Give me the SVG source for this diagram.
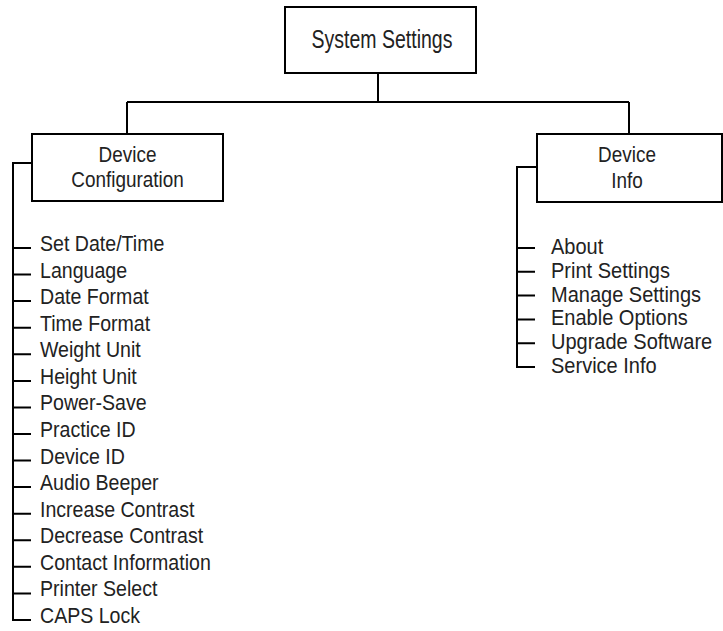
<svg xmlns="http://www.w3.org/2000/svg" width="723" height="631" viewBox="0 0 723 631">
<style>
  .box { fill: #fff; stroke: #000; stroke-width: 2; }
  .ln { fill: none; stroke: #000; stroke-width: 2; }
  text { font-family: "Liberation Sans", Arial, sans-serif; fill: #222; }
  .t { font-size: 22px; }
  .top { font-size: 25px; }
  .c { text-anchor: middle; }
</style>
<rect width="723" height="631" fill="#fff"/>
<g id="connectors">
  <path class="ln" d="M378 73 V102 M127 102 H629 M127 102 V134 M629 102 V134"/>
  <path class="ln" d="M32 163 H13 V620 H31"/>
  <path class="ln" d="M13 248 H31 M13 274.6 H31 M13 301.1 H31 M13 327.7 H31 M13 354.3 H31 M13 380.9 H31 M13 407.4 H31 M13 434 H31 M13 460.6 H31 M13 487.1 H31 M13 513.7 H31 M13 540.3 H31 M13 566.8 H31 M13 593.4 H31"/>
  <path class="ln" d="M537 167 H517 V367 H535"/>
  <path class="ln" d="M517 248 H535 M517 271.8 H535 M517 295.6 H535 M517 319.4 H535 M517 343.2 H535"/>
</g>
<g id="system-settings">
  <rect class="box" x="285" y="7" width="191" height="66"/>
  <text class="top c" transform="translate(382 48) scale(0.78 1)">System Settings</text>
</g>
<g id="device-configuration">
  <rect class="box" x="32" y="134" width="191" height="67"/>
  <text class="t c" transform="translate(127.5 162) scale(0.86 1)">Device</text>
  <text class="t c" transform="translate(127.5 187) scale(0.86 1)">Configuration</text>
</g>
<g id="device-info">
  <rect class="box" x="537" y="134" width="185" height="68"/>
  <text class="t c" transform="translate(627 162) scale(0.86 1)">Device</text>
  <text class="t c" transform="translate(627 188) scale(0.86 1)">Info</text>
</g>
<g id="device-configuration-items">
  <text class="t" transform="translate(40 251) scale(0.89 1)">Set Date/Time</text>
  <text class="t" transform="translate(40 277.6) scale(0.89 1)">Language</text>
  <text class="t" transform="translate(40 304.1) scale(0.89 1)">Date Format</text>
  <text class="t" transform="translate(40 330.7) scale(0.89 1)">Time Format</text>
  <text class="t" transform="translate(40 357.3) scale(0.89 1)">Weight Unit</text>
  <text class="t" transform="translate(40 383.9) scale(0.89 1)">Height Unit</text>
  <text class="t" transform="translate(40 410.4) scale(0.89 1)">Power-Save</text>
  <text class="t" transform="translate(40 437) scale(0.89 1)">Practice ID</text>
  <text class="t" transform="translate(40 463.6) scale(0.89 1)">Device ID</text>
  <text class="t" transform="translate(40 490.1) scale(0.89 1)">Audio Beeper</text>
  <text class="t" transform="translate(40 516.7) scale(0.89 1)">Increase Contrast</text>
  <text class="t" transform="translate(40 543.3) scale(0.89 1)">Decrease Contrast</text>
  <text class="t" transform="translate(40 569.8) scale(0.89 1)">Contact Information</text>
  <text class="t" transform="translate(40 596.4) scale(0.89 1)">Printer Select</text>
  <text class="t" transform="translate(40 623) scale(0.89 1)">CAPS Lock</text>
</g>
<g id="device-info-items">
  <text class="t" transform="translate(551 254) scale(0.91 1)">About</text>
  <text class="t" transform="translate(551 277.8) scale(0.91 1)">Print Settings</text>
  <text class="t" transform="translate(551 301.6) scale(0.91 1)">Manage Settings</text>
  <text class="t" transform="translate(551 325.4) scale(0.91 1)">Enable Options</text>
  <text class="t" transform="translate(551 349.2) scale(0.91 1)">Upgrade Software</text>
  <text class="t" transform="translate(551 373) scale(0.91 1)">Service Info</text>
</g>
</svg>
